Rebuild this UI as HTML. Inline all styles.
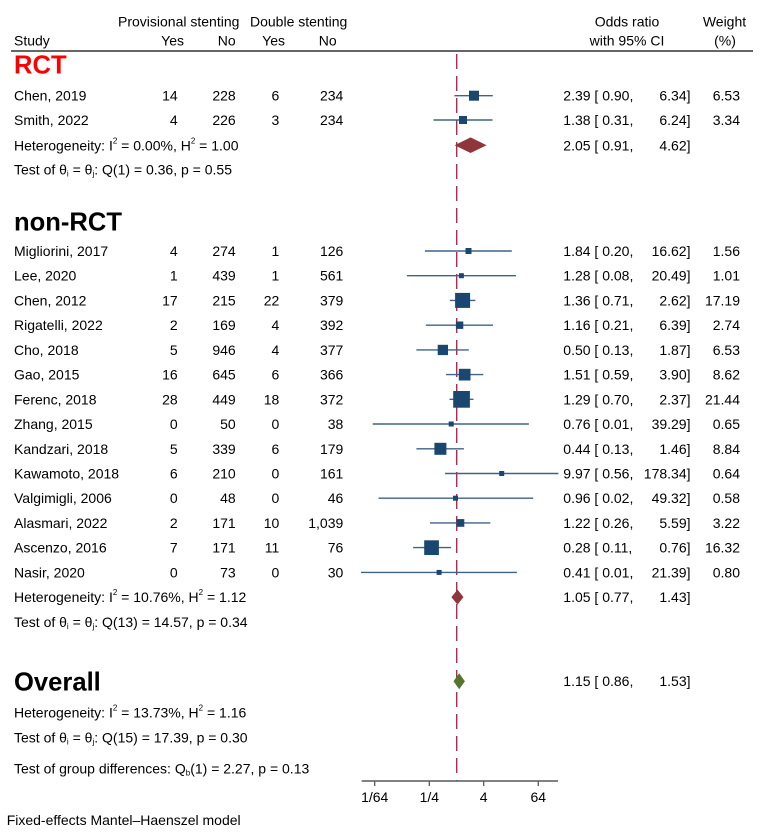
<!DOCTYPE html>
<html><head><meta charset="utf-8"><style>
html,body{margin:0;padding:0;background:#fff;}
svg{display:block;}
text{font-family:"Liberation Sans",Arial,sans-serif;font-size:14px;fill:#000;}
.r{text-anchor:end;}
.m{text-anchor:middle;}
.h{font-weight:bold;font-size:25.6px;}
.ci{stroke:#3e6385;stroke-width:1.4;}
.bx{fill:#1a476f;}
</style></head><body>
<svg width="765" height="833" viewBox="0 0 765 833" xmlns="http://www.w3.org/2000/svg">
<rect width="765" height="833" fill="#fff"/>
<!-- header -->
<text x="118" y="26.5">Provisional stenting</text>
<text x="250" y="26.5">Double stenting</text>
<text x="14" y="45.7">Study</text>
<text class="r" x="184" y="45.7">Yes</text>
<text class="r" x="235.7" y="45.7">No</text>
<text class="r" x="285" y="45.7">Yes</text>
<text class="r" x="336.7" y="45.7">No</text>
<text class="m" x="627" y="26.5">Odds ratio</text>
<text class="m" x="627" y="45.7">with 95% CI</text>
<text class="m" x="724.5" y="26.5">Weight</text>
<text class="m" x="725" y="45.7">(%)</text>
<line x1="11" y1="51" x2="753" y2="51" stroke="#666" stroke-width="2"/>

<!-- dashed null line -->
<line x1="456.7" y1="54" x2="456.7" y2="781" stroke="#c91d4f" stroke-width="1.4" stroke-dasharray="15 7"/>

<!-- RCT -->
<text class="h" x="14" y="73.3" style="fill:#ff0000">RCT</text>

<!-- rows -->
<g id="rows">
<!-- Chen 2019 -->
<text x="14" y="100.7">Chen, 2019</text><text class="r" x="177.7" y="100.7">14</text><text class="r" x="235.7" y="100.7">228</text><text class="r" x="279.3" y="100.7">6</text><text class="r" x="343.3" y="100.7">234</text>
<text x="563.3" y="100.7">2.39 [ 0.90,</text><text class="r" x="690.5" y="100.7">6.34]</text><text class="r" x="740" y="100.7">6.53</text>
<line class="ci" x1="454.4" y1="95.7" x2="492.8" y2="95.7"/><rect class="bx" x="469" y="90.7" width="10" height="10"/>
<!-- Smith -->
<text x="14" y="125">Smith, 2022</text><text class="r" x="177.7" y="125">4</text><text class="r" x="235.7" y="125">226</text><text class="r" x="279.3" y="125">3</text><text class="r" x="343.3" y="125">234</text>
<text x="563.3" y="125">1.38 [ 0.31,</text><text class="r" x="690.5" y="125">6.24]</text><text class="r" x="740" y="125">3.34</text>
<line class="ci" x1="433.5" y1="120" x2="492.5" y2="120"/><rect class="bx" x="459" y="116" width="8" height="8"/>
</g>
<text x="14" y="150.7">Heterogeneity: I<tspan font-size="8" dy="-7">2</tspan><tspan dy="7"> = 0.00%, H</tspan><tspan font-size="8" dy="-7">2</tspan><tspan dy="7"> = 1.00</tspan></text>
<text x="563.3" y="150.7">2.05 [ 0.91,</text><text class="r" x="690.5" y="150.7">4.62]</text>
<polygon points="454.6,145.2 470.6,137.4 486.6,145.2 470.6,153" fill="#90353b"/>
<text x="14" y="174.5">Test of θ<tspan font-size="8" dy="2">i</tspan><tspan dy="-2"> = θ</tspan><tspan font-size="8" dy="2">j</tspan><tspan dy="-2">: Q(1) = 0.36, p = 0.55</tspan></text>

<!-- non-RCT -->
<text class="h" x="14" y="230.7">non-RCT</text>

<text x="14" y="256">Migliorini, 2017</text><text class="r" x="177.7" y="256">4</text><text class="r" x="235.7" y="256">274</text><text class="r" x="279.3" y="256">1</text><text class="r" x="343.3" y="256">126</text>
<text x="563.3" y="256">1.84 [ 0.20,</text><text class="r" x="690.5" y="256">16.62]</text><text class="r" x="740" y="256">1.56</text>
<line class="ci" x1="424.9" y1="251" x2="511.8" y2="251"/><rect class="bx" x="465.5" y="248" width="6" height="6"/>

<text x="14" y="280.7">Lee, 2020</text><text class="r" x="177.7" y="280.7">1</text><text class="r" x="235.7" y="280.7">439</text><text class="r" x="279.3" y="280.7">1</text><text class="r" x="343.3" y="280.7">561</text>
<text x="563.3" y="280.7">1.28 [ 0.08,</text><text class="r" x="690.5" y="280.7">20.49]</text><text class="r" x="740" y="280.7">1.01</text>
<line class="ci" x1="406.9" y1="275.7" x2="515.9" y2="275.7"/><rect class="bx" x="458.9" y="273.2" width="5" height="5"/>

<text x="14" y="305.4">Chen, 2012</text><text class="r" x="177.7" y="305.4">17</text><text class="r" x="235.7" y="305.4">215</text><text class="r" x="279.3" y="305.4">22</text><text class="r" x="343.3" y="305.4">379</text>
<text x="563.3" y="305.4">1.36 [ 0.71,</text><text class="r" x="690.5" y="305.4">2.62]</text><text class="r" x="740" y="305.4">17.19</text>
<line class="ci" x1="449.8" y1="300.4" x2="475.4" y2="300.4"/><rect class="bx" x="455.1" y="292.9" width="15" height="15"/>

<text x="14" y="330.2">Rigatelli, 2022</text><text class="r" x="177.7" y="330.2">2</text><text class="r" x="235.7" y="330.2">169</text><text class="r" x="279.3" y="330.2">4</text><text class="r" x="343.3" y="330.2">392</text>
<text x="563.3" y="330.2">1.16 [ 0.21,</text><text class="r" x="690.5" y="330.2">6.39]</text><text class="r" x="740" y="330.2">2.74</text>
<line class="ci" x1="425.8" y1="325.2" x2="493" y2="325.2"/><rect class="bx" x="455.9" y="321.5" width="7.4" height="7.4"/>

<text x="14" y="354.9">Cho, 2018</text><text class="r" x="177.7" y="354.9">5</text><text class="r" x="235.7" y="354.9">946</text><text class="r" x="279.3" y="354.9">4</text><text class="r" x="343.3" y="354.9">377</text>
<text x="563.3" y="354.9">0.50 [ 0.13,</text><text class="r" x="690.5" y="354.9">1.87]</text><text class="r" x="740" y="354.9">6.53</text>
<line class="ci" x1="416.4" y1="349.9" x2="468.8" y2="349.9"/><rect class="bx" x="437.7" y="344.8" width="10.3" height="10.3"/>

<text x="14" y="379.6">Gao, 2015</text><text class="r" x="177.7" y="379.6">16</text><text class="r" x="235.7" y="379.6">645</text><text class="r" x="279.3" y="379.6">6</text><text class="r" x="343.3" y="379.6">366</text>
<text x="563.3" y="379.6">1.51 [ 0.59,</text><text class="r" x="690.5" y="379.6">3.90]</text><text class="r" x="740" y="379.6">8.62</text>
<line class="ci" x1="446.1" y1="374.6" x2="483.3" y2="374.6"/><rect class="bx" x="458.8" y="368.8" width="11.7" height="11.7"/>

<text x="14" y="404.3">Ferenc, 2018</text><text class="r" x="177.7" y="404.3">28</text><text class="r" x="235.7" y="404.3">449</text><text class="r" x="279.3" y="404.3">18</text><text class="r" x="343.3" y="404.3">372</text>
<text x="563.3" y="404.3">1.29 [ 0.70,</text><text class="r" x="690.5" y="404.3">2.37]</text><text class="r" x="740" y="404.3">21.44</text>
<line class="ci" x1="449.5" y1="399.3" x2="473.5" y2="399.3"/><rect class="bx" x="453.2" y="391" width="16.7" height="16.7"/>

<text x="14" y="429">Zhang, 2015</text><text class="r" x="177.7" y="429">0</text><text class="r" x="235.7" y="429">50</text><text class="r" x="279.3" y="429">0</text><text class="r" x="343.3" y="429">38</text>
<text x="563.3" y="429">0.76 [ 0.01,</text><text class="r" x="690.5" y="429">39.29]</text><text class="r" x="740" y="429">0.65</text>
<line class="ci" x1="372.7" y1="424" x2="528.9" y2="424"/><rect class="bx" x="448.7" y="421.5" width="5" height="5"/>

<text x="14" y="453.8">Kandzari, 2018</text><text class="r" x="177.7" y="453.8">5</text><text class="r" x="235.7" y="453.8">339</text><text class="r" x="279.3" y="453.8">6</text><text class="r" x="343.3" y="453.8">179</text>
<text x="563.3" y="453.8">0.44 [ 0.13,</text><text class="r" x="690.5" y="453.8">1.46]</text><text class="r" x="740" y="453.8">8.84</text>
<line class="ci" x1="416.4" y1="448.8" x2="463.9" y2="448.8"/><rect class="bx" x="434.4" y="442.8" width="12" height="12"/>

<text x="14" y="478.5">Kawamoto, 2018</text><text class="r" x="177.7" y="478.5">6</text><text class="r" x="235.7" y="478.5">210</text><text class="r" x="279.3" y="478.5">0</text><text class="r" x="343.3" y="478.5">161</text>
<text x="563.3" y="478.5">9.97 [ 0.56,</text><text class="r" x="690.5" y="478.5">178.34]</text><text class="r" x="740" y="478.5">0.64</text>
<line class="ci" x1="445.1" y1="473.5" x2="558.4" y2="473.5"/><rect class="bx" x="499.2" y="471" width="5" height="5"/>

<text x="14" y="503.2">Valgimigli, 2006</text><text class="r" x="177.7" y="503.2">0</text><text class="r" x="235.7" y="503.2">48</text><text class="r" x="279.3" y="503.2">0</text><text class="r" x="343.3" y="503.2">46</text>
<text x="563.3" y="503.2">0.96 [ 0.02,</text><text class="r" x="690.5" y="503.2">49.32]</text><text class="r" x="740" y="503.2">0.58</text>
<line class="ci" x1="378.5" y1="498.2" x2="533.2" y2="498.2"/><rect class="bx" x="453" y="495.7" width="5" height="5"/>

<text x="14" y="527.9">Alasmari, 2022</text><text class="r" x="177.7" y="527.9">2</text><text class="r" x="235.7" y="527.9">171</text><text class="r" x="279.3" y="527.9">10</text><text class="r" x="343.3" y="527.9">1,039</text>
<text x="563.3" y="527.9">1.22 [ 0.26,</text><text class="r" x="690.5" y="527.9">5.59]</text><text class="r" x="740" y="527.9">3.22</text>
<line class="ci" x1="430" y1="522.9" x2="490.3" y2="522.9"/><rect class="bx" x="456.6" y="519.1" width="7.7" height="7.7"/>

<text x="14" y="552.6">Ascenzo, 2016</text><text class="r" x="177.7" y="552.6">7</text><text class="r" x="235.7" y="552.6">171</text><text class="r" x="279.3" y="552.6">11</text><text class="r" x="343.3" y="552.6">76</text>
<text x="563.3" y="552.6">0.28 [ 0.11,</text><text class="r" x="690.5" y="552.6">0.76]</text><text class="r" x="740" y="552.6">16.32</text>
<line class="ci" x1="413.1" y1="547.6" x2="451.1" y2="547.6"/><rect class="bx" x="424.2" y="540.3" width="14.7" height="14.7"/>

<text x="14" y="577.4">Nasir, 2020</text><text class="r" x="177.7" y="577.4">0</text><text class="r" x="235.7" y="577.4">73</text><text class="r" x="279.3" y="577.4">0</text><text class="r" x="343.3" y="577.4">30</text>
<text x="563.3" y="577.4">0.41 [ 0.01,</text><text class="r" x="690.5" y="577.4">21.39]</text><text class="r" x="740" y="577.4">0.80</text>
<line class="ci" x1="361" y1="572.4" x2="516.9" y2="572.4"/><rect class="bx" x="436.6" y="569.9" width="5" height="5"/>

<text x="14" y="602.1">Heterogeneity: I<tspan font-size="8" dy="-7">2</tspan><tspan dy="7"> = 10.76%, H</tspan><tspan font-size="8" dy="-7">2</tspan><tspan dy="7"> = 1.12</tspan></text>
<text x="563.3" y="602.1">1.05 [ 0.77,</text><text class="r" x="690.5" y="602.1">1.43]</text>
<polygon points="451.4,597.1 457.5,589.6 463.5,597.1 457.5,604.6" fill="#90353b"/>
<text x="14" y="626.8">Test of θ<tspan font-size="8" dy="2">i</tspan><tspan dy="-2"> = θ</tspan><tspan font-size="8" dy="2">j</tspan><tspan dy="-2">: Q(13) = 14.57, p = 0.34</tspan></text>

<!-- Overall -->
<text class="h" x="14" y="690.7">Overall</text>
<text x="563.3" y="686">1.15 [ 0.86,</text><text class="r" x="690.5" y="686">1.53]</text>
<polygon points="453.5,681.2 459.2,673.2 464.9,681.2 459.2,689.2" fill="#55752f"/>
<text x="14" y="717.3">Heterogeneity: I<tspan font-size="8" dy="-7">2</tspan><tspan dy="7"> = 13.73%, H</tspan><tspan font-size="8" dy="-7">2</tspan><tspan dy="7"> = 1.16</tspan></text>
<text x="14" y="742.3">Test of θ<tspan font-size="8" dy="2">i</tspan><tspan dy="-2"> = θ</tspan><tspan font-size="8" dy="2">j</tspan><tspan dy="-2">: Q(15) = 17.39, p = 0.30</tspan></text>
<text x="14" y="773.3">Test of group differences: Q<tspan font-size="8" dy="2">b</tspan><tspan dy="-2">(1) = 2.27, p = 0.13</tspan></text>

<!-- axis -->
<line x1="361.7" y1="781" x2="558" y2="781" stroke="#595959" stroke-width="1.5"/>
<g stroke="#595959" stroke-width="1.3">
<line x1="374.7" y1="781" x2="374.7" y2="786"/>
<line x1="429.3" y1="781" x2="429.3" y2="786"/>
<line x1="483.7" y1="781" x2="483.7" y2="786"/>
<line x1="538.3" y1="781" x2="538.3" y2="786"/>
</g>
<text class="m" x="374.7" y="802">1/64</text>
<text class="m" x="429.3" y="802">1/4</text>
<text class="m" x="483.7" y="802">4</text>
<text class="m" x="538.3" y="802">64</text>

<text x="6.7" y="825">Fixed-effects Mantel–Haenszel model</text>
</svg>
</body></html>
